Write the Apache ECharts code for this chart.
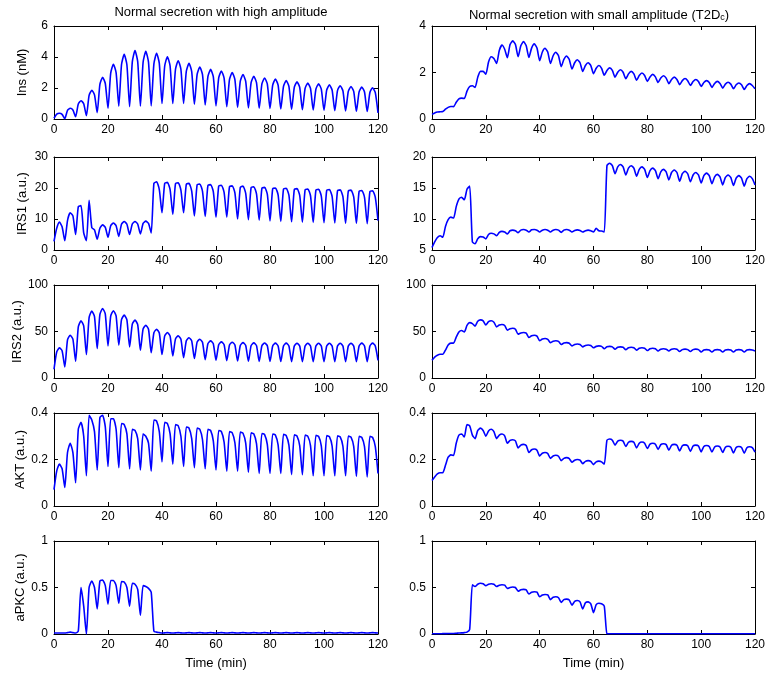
<!DOCTYPE html>
<html>
<head>
<meta charset="utf-8">
<script src="https://cdn.jsdelivr.net/npm/echarts@6/dist/echarts.min.js"></script>
<style>
  html, body { margin: 0; background: #fff; }
  #chart { width: 768px; height: 679px; }
</style>
</head>
<body>
<div id="chart"></div>
<script>
// sample times, one per minute (0 .. 120)
const minutes = Array.from({ length: 121 }, (_, i) => i)

// left column: normal secretion with high amplitude
const insHigh = [
  0.05, 0.31, 0.37, 0.30, 0.02, 0.56, 0.69, 0.58, 0.15, 0.97, 1.18, 0.99, 0.22, 1.52, 1.85, 1.56, 0.41, 2.23, 2.69, 2.29,
  0.69, 2.96, 3.53, 2.99, 0.84, 3.50, 4.17, 3.50, 0.80, 3.69, 4.41, 3.70, 0.84, 3.66, 4.37, 3.67, 0.85, 3.56, 4.24, 3.59,
  1.00, 3.42, 4.02, 3.42, 1.00, 3.21, 3.76, 3.21, 1.00, 3.07, 3.59, 3.06, 0.95, 2.87, 3.35, 2.86, 0.90, 2.74, 3.20, 2.73,
  0.85, 2.65, 3.10, 2.64, 0.80, 2.55, 2.99, 2.54, 0.75, 2.44, 2.86, 2.43, 0.72, 2.34, 2.75, 2.34, 0.70, 2.26, 2.65, 2.26,
  0.68, 2.19, 2.57, 2.19, 0.65, 2.11, 2.48, 2.11, 0.62, 2.04, 2.40, 2.04, 0.60, 1.98, 2.32, 1.97, 0.58, 1.93, 2.27, 1.93,
  0.56, 1.87, 2.20, 1.87, 0.54, 1.83, 2.15, 1.82, 0.52, 1.78, 2.10, 1.78, 0.50, 1.75, 2.06, 1.74, 0.48, 1.71, 2.02, 1.70,
  0.40
]
const irs1High = [
  2.8, 7.0, 9.0, 7.5, 3.0, 9.5, 12.0, 11.0, 5.0, 14.0, 14.3, 5.5, 3.0, 16.0, 7.2, 6.5, 3.5, 7.0, 8.1, 7.3,
  4.1, 7.8, 8.7, 7.8, 4.4, 8.3, 9.2, 8.3, 5.0, 8.4, 9.2, 8.4, 5.2, 8.6, 9.3, 8.6, 5.5, 21.5, 22.0, 19.5,
  12.0, 21.5, 21.8, 19.5, 11.5, 21.4, 21.7, 19.3, 12.0, 21.2, 21.5, 19.0, 11.0, 21.0, 21.3, 18.9, 10.8, 20.8, 21.1, 18.8,
  10.6, 20.6, 20.9, 18.6, 10.6, 20.4, 20.7, 18.4, 10.0, 20.2, 20.6, 18.3, 9.8, 20.1, 20.4, 18.1, 9.6, 19.9, 20.2, 18.0,
  9.4, 19.8, 20.0, 17.8, 9.2, 19.6, 19.9, 17.7, 9.1, 19.5, 19.8, 17.6, 9.0, 19.4, 19.7, 17.5, 8.9, 19.3, 19.6, 17.4,
  8.8, 19.2, 19.5, 17.3, 8.7, 19.1, 19.4, 17.2, 8.6, 19.0, 19.3, 17.1, 8.6, 18.9, 19.2, 17.0, 8.5, 18.8, 19.1, 17.0,
  9.5
]
const irs2High = [
  9.4, 28, 32.4, 29.3, 11.9, 40.9, 46, 41.8, 18, 55, 61.5, 56.1, 25.2, 65, 72, 66, 31.7, 68.3, 74.8, 68.8,
  34.5, 66.6, 72.3, 66.8, 35.3, 62.8, 67.6, 62.5, 33.5, 57.9, 62.2, 57.4, 29.9, 52.8, 56.8, 52.4, 27.3, 48.7, 52.5, 48.4,
  25.2, 45.3, 48.9, 45.1, 23.7, 42.1, 45.3, 41.8, 21.9, 40.0, 43.2, 39.9, 20.9, 38.6, 41.7, 38.4, 19.8, 36.9, 39.9, 36.8,
  19.1, 35.8, 38.8, 35.8, 18.7, 35.5, 38.5, 35.5, 18.3, 35.0, 38.0, 35.0, 18.0, 34.8, 37.8, 34.8, 17.9, 34.6, 37.6, 34.6,
  17.8, 34.5, 37.5, 34.5, 17.7, 34.5, 37.5, 34.5, 17.6, 34.4, 37.4, 34.4, 17.5, 34.4, 37.4, 34.4, 17.5, 34.4, 37.4, 34.4,
  17.5, 34.4, 37.4, 34.4, 17.5, 34.4, 37.4, 34.4, 17.5, 34.4, 37.4, 34.4, 17.5, 34.5, 37.5, 34.5, 17.5, 34.5, 37.5, 34.5,
  19
]
const aktHigh = [
  0.07, 0.15, 0.18, 0.16, 0.08, 0.23, 0.27, 0.23, 0.10, 0.33, 0.36, 0.30, 0.13, 0.39, 0.37, 0.32, 0.155, 0.38, 0.39, 0.34,
  0.17, 0.375, 0.375, 0.33, 0.165, 0.355, 0.35, 0.31, 0.16, 0.33, 0.325, 0.29, 0.155, 0.31, 0.30, 0.27, 0.15, 0.37, 0.365, 0.32,
  0.19, 0.36, 0.355, 0.31, 0.18, 0.35, 0.345, 0.30, 0.17, 0.34, 0.335, 0.29, 0.165, 0.335, 0.33, 0.285, 0.16, 0.33, 0.325, 0.28,
  0.155, 0.325, 0.32, 0.275, 0.15, 0.32, 0.315, 0.272, 0.15, 0.318, 0.313, 0.27, 0.145, 0.315, 0.31, 0.268, 0.14, 0.312, 0.307, 0.265,
  0.14, 0.31, 0.305, 0.263, 0.14, 0.308, 0.303, 0.262, 0.135, 0.306, 0.301, 0.26, 0.135, 0.305, 0.30, 0.26, 0.13, 0.304, 0.299, 0.259,
  0.13, 0.303, 0.298, 0.258, 0.13, 0.302, 0.297, 0.257, 0.13, 0.301, 0.296, 0.256, 0.128, 0.30, 0.295, 0.255, 0.125, 0.30, 0.295, 0.255,
  0.14
]
const apkcHigh = [
  0.01, 0.01, 0.01, 0.01, 0.01, 0.015, 0.02, 0.015, 0.01, 0.03, 0.50, 0.30, 0, 0.50, 0.57, 0.50, 0.27, 0.57, 0.58, 0.52,
  0.32, 0.575, 0.575, 0.52, 0.33, 0.565, 0.56, 0.50, 0.30, 0.545, 0.535, 0.48, 0.20, 0.52, 0.51, 0.49, 0.45, 0.03, 0.02, 0.015,
  0.01, 0.012, 0.015, 0.012, 0.01, 0.012, 0.015, 0.012, 0.01, 0.012, 0.015, 0.012, 0.01, 0.012, 0.015, 0.012, 0.01, 0.012, 0.015, 0.012,
  0.01, 0.012, 0.015, 0.012, 0.01, 0.012, 0.015, 0.012, 0.01, 0.012, 0.015, 0.012, 0.01, 0.012, 0.015, 0.012, 0.01, 0.012, 0.015, 0.012,
  0.01, 0.012, 0.015, 0.012, 0.01, 0.012, 0.015, 0.012, 0.01, 0.012, 0.015, 0.012, 0.01, 0.012, 0.015, 0.012, 0.01, 0.012, 0.015, 0.012,
  0.01, 0.012, 0.015, 0.012, 0.01, 0.012, 0.015, 0.012, 0.01, 0.012, 0.015, 0.012, 0.01, 0.012, 0.015, 0.012, 0.01, 0.012, 0.015, 0.012,
  0.01
]

// right column: normal secretion with small amplitude (T2Dc)
const insSmall = [
  0.2, 0.26, 0.3, 0.31, 0.32, 0.42, 0.5, 0.54, 0.53, 0.72, 0.87, 0.9, 0.88, 1.2, 1.4, 1.43, 1.36, 1.8, 2.05, 2.05,
  1.93, 2.45, 2.68, 2.6, 2.39, 2.95, 3.18, 3.0, 2.64, 3.2, 3.36, 3.2, 2.68, 3.15, 3.33, 3.15, 2.65, 3.05, 3.23, 3.05,
  2.51, 2.88, 3.04, 2.88, 2.39, 2.72, 2.87, 2.72, 2.25, 2.56, 2.71, 2.56, 2.15, 2.42, 2.55, 2.42, 2.05, 2.3, 2.42, 2.3,
  1.95, 2.18, 2.3, 2.18, 1.88, 2.09, 2.2, 2.09, 1.8, 2.01, 2.12, 2.01, 1.73, 1.94, 2.05, 1.94, 1.67, 1.87, 1.98, 1.87,
  1.62, 1.81, 1.92, 1.81, 1.57, 1.76, 1.86, 1.76, 1.52, 1.7, 1.8, 1.7, 1.48, 1.65, 1.74, 1.65, 1.44, 1.61, 1.7, 1.61,
  1.4, 1.57, 1.65, 1.57, 1.36, 1.53, 1.62, 1.53, 1.33, 1.5, 1.58, 1.5, 1.3, 1.47, 1.55, 1.47, 1.27, 1.44, 1.52, 1.44,
  1.3
]
const irs1Small = [
  5.4, 6.3, 7.0, 7.3, 7.05, 8.8, 9.9, 10.3, 10.15, 12.0, 13.2, 13.5, 13.1, 14.8, 15.3, 6.3, 6.0, 6.8, 7.15, 7.1,
  6.8, 7.5, 7.7, 7.6, 7.3, 7.85, 8.0, 7.9, 7.6, 8.1, 8.2, 8.1, 7.8, 8.2, 8.3, 8.2, 7.9, 8.25, 8.3, 8.2,
  7.9, 8.2, 8.3, 8.2, 7.9, 8.2, 8.3, 8.2, 7.85, 8.2, 8.3, 8.2, 7.9, 8.15, 8.25, 8.15, 7.9, 8.1, 8.2, 8.1,
  7.9, 8.5, 8.1, 8.05, 7.9, 18.6, 19.0, 18.6, 17.3, 18.4, 18.8, 18.4, 17.1, 18.2, 18.6, 18.2, 16.9, 18.0, 18.4, 18.0,
  16.7, 17.8, 18.2, 17.8, 16.5, 17.6, 18.0, 17.6, 16.3, 17.5, 17.9, 17.5, 16.1, 17.3, 17.7, 17.3, 16.0, 17.1, 17.5, 17.1,
  15.8, 17.0, 17.4, 17.0, 15.7, 16.8, 17.2, 16.8, 15.5, 16.7, 17.1, 16.7, 15.4, 16.6, 17.0, 16.6, 15.3, 16.5, 16.9, 16.5,
  15.5
]
const irs2Small = [
  19, 22.5, 24.5, 25.5, 25.5, 30, 35.5, 37.5, 37.5, 44, 49.5, 51, 49.5, 56.5, 59.5, 58.5, 55.8, 61, 62.5, 61.5,
  57, 60.5, 61.5, 60, 55, 57, 57.5, 56.5, 51.5, 53, 53.5, 52.5, 47, 48.5, 49, 48.2, 43.5, 45.5, 46, 45,
  40, 42, 42.5, 41.5, 38, 39.5, 40, 39.3, 36, 37.6, 38, 37.4, 34.5, 36, 36.5, 36, 33.5, 35, 35.5, 35,
  32.5, 34, 34.5, 34, 31.5, 33.5, 34, 33.5, 31, 33, 33.5, 33, 30.5, 32.5, 33, 32.5, 30, 32, 32.5, 32,
  29.5, 31.5, 32, 31.5, 29, 31, 31.5, 31, 29, 31, 31.5, 31, 28.5, 30.5, 31, 30.5, 28.5, 30.5, 31, 30.5,
  28, 30, 30.5, 30, 28, 30, 30.5, 30, 28, 30, 30.5, 30, 28, 30, 30.5, 30, 28, 30, 30.5, 30,
  29
]
const aktSmall = [
  0.11, 0.125, 0.138, 0.143, 0.143, 0.175, 0.21, 0.22, 0.217, 0.27, 0.305, 0.31, 0.297, 0.35, 0.345, 0.305, 0.29, 0.325, 0.335, 0.325,
  0.30, 0.323, 0.33, 0.32, 0.29, 0.305, 0.31, 0.302, 0.27, 0.282, 0.285, 0.28, 0.25, 0.262, 0.265, 0.26, 0.23, 0.242, 0.245, 0.24,
  0.215, 0.227, 0.23, 0.226, 0.205, 0.215, 0.218, 0.214, 0.195, 0.205, 0.208, 0.204, 0.188, 0.197, 0.2, 0.197, 0.182, 0.192, 0.195, 0.192,
  0.178, 0.19, 0.193, 0.19, 0.18, 0.283, 0.288, 0.283, 0.262, 0.279, 0.283, 0.279, 0.256, 0.274, 0.278, 0.274, 0.25, 0.27, 0.275, 0.27,
  0.247, 0.266, 0.27, 0.266, 0.243, 0.264, 0.268, 0.264, 0.24, 0.261, 0.265, 0.261, 0.237, 0.259, 0.263, 0.259, 0.235, 0.258, 0.262, 0.258,
  0.233, 0.256, 0.26, 0.256, 0.232, 0.254, 0.258, 0.254, 0.23, 0.253, 0.257, 0.253, 0.228, 0.252, 0.256, 0.252, 0.227, 0.251, 0.255, 0.251,
  0.232
]
const apkcSmall = [
  0.002, 0.002, 0.003, 0.003, 0.004, 0.004, 0.005, 0.005, 0.006, 0.008, 0.01, 0.012, 0.015, 0.02, 0.05, 0.53, 0.51, 0.535, 0.545, 0.54,
  0.52, 0.535, 0.54, 0.535, 0.51, 0.525, 0.53, 0.525, 0.49, 0.5, 0.505, 0.5, 0.46, 0.475, 0.48, 0.475, 0.43, 0.45, 0.455, 0.45,
  0.40, 0.42, 0.425, 0.42, 0.37, 0.395, 0.4, 0.39, 0.34, 0.37, 0.375, 0.365, 0.31, 0.35, 0.36, 0.345, 0.27, 0.335, 0.345, 0.325,
  0.23, 0.315, 0.33, 0.325, 0.30, 0.003, 0.002, 0.002, 0.002, 0.002, 0.002, 0.002, 0.002, 0.002, 0.002, 0.002, 0.002, 0.002, 0.002, 0.002,
  0.002, 0.002, 0.002, 0.002, 0.002, 0.002, 0.002, 0.002, 0.002, 0.002, 0.002, 0.002, 0.002, 0.002, 0.002, 0.002, 0.002, 0.002, 0.002, 0.002,
  0.002, 0.002, 0.002, 0.002, 0.002, 0.002, 0.002, 0.002, 0.002, 0.002, 0.002, 0.002, 0.002, 0.002, 0.002, 0.002, 0.002, 0.002, 0.002, 0.002,
  0.002
]

// x ticks and per-row y ranges [min, max, interval]
const xTicks = { min: 0, max: 120, interval: 20 }
const rows = [
  { name: 'Ins (nM)', high: insHigh, small: insSmall, rangeHigh: [0, 6, 2], rangeSmall: [0, 4, 2] },
  { name: 'IRS1 (a.u.)', high: irs1High, small: irs1Small, rangeHigh: [0, 30, 10], rangeSmall: [5, 20, 5] },
  { name: 'IRS2 (a.u.)', high: irs2High, small: irs2Small, rangeHigh: [0, 100, 50], rangeSmall: [0, 100, 50] },
  { name: 'AKT (a.u.)', high: aktHigh, small: aktSmall, rangeHigh: [0, 0.4, 0.2], rangeSmall: [0, 0.4, 0.2] },
  { name: 'aPKC (a.u.)', high: apkcHigh, small: apkcSmall, rangeHigh: [0, 1, 0.5], rangeSmall: [0, 1, 0.5] }
]

const rowTops = [26, 157, 285, 413, 541]
const colLefts = [54, 432]
const plotW = 324
const plotH = 93
const font = 'Liberation Sans, Arial, Helvetica, sans-serif'

const grid = []
const xAxis = []
const yAxis = []
const series = []

rows.forEach((row, r) => {
  [0, 1].forEach(c => {
    const g = grid.length
    const range = c === 0 ? row.rangeHigh : row.rangeSmall
    const values = c === 0 ? row.high : row.small
    grid.push({ left: colLefts[c], top: rowTops[r], width: plotW, height: plotH })

    // MATLAB style box: ticks point inwards on all four sides
    const tick = { show: true, inside: true, length: 4, lineStyle: { color: '#000', width: 1 } }
    const line = { show: true, onZero: false, lineStyle: { color: '#000', width: 1 } }

    // bottom x axis (with labels) and top x axis (ticks only)
    const bottom = {
      gridIndex: g, type: 'value', position: 'bottom',
      min: xTicks.min, max: xTicks.max, interval: xTicks.interval,
      axisLine: line, axisTick: tick, splitLine: { show: false },
      axisLabel: { color: '#000', fontSize: 12, margin: 5, fontFamily: font }
    }
    if (r === rows.length - 1) {
      bottom.name = 'Time (min)'
      bottom.nameLocation = 'middle'
      bottom.nameGap = 23
      bottom.nameTextStyle = { color: '#000', fontSize: 13, fontFamily: font }
    }
    xAxis.push(bottom)
    xAxis.push({
      gridIndex: g, type: 'value', position: 'top',
      min: xTicks.min, max: xTicks.max, interval: xTicks.interval,
      axisLine: line, axisTick: tick, splitLine: { show: false },
      axisLabel: { show: false }
    })

    // left y axis (with labels) and right y axis (ticks only)
    const left = {
      gridIndex: g, type: 'value', position: 'left',
      min: range[0], max: range[1], interval: range[2],
      axisLine: line, axisTick: tick, splitLine: { show: false },
      axisLabel: { color: '#000', fontSize: 12, margin: 6, fontFamily: font }
    }
    if (c === 0) {
      left.name = row.name
      left.nameLocation = 'middle'
      left.nameGap = 25
      left.nameTextStyle = { color: '#000', fontSize: 13, fontFamily: font }
    }
    yAxis.push(left)
    yAxis.push({
      gridIndex: g, type: 'value', position: 'right',
      min: range[0], max: range[1], interval: range[2],
      axisLine: line, axisTick: tick, splitLine: { show: false },
      axisLabel: { show: false }
    })

    series.push({
      type: 'line',
      xAxisIndex: 2 * g,
      yAxisIndex: 2 * g,
      data: minutes.map((t, i) => [t, values[i]]),
      showSymbol: false,
      smooth: 0.2,
      lineStyle: { color: '#0000ff', width: 1.6 },
      silent: true
    })
  })
})

const chart = echarts.init(document.getElementById('chart'))
chart.setOption({
  animation: false,
  backgroundColor: '#fff',
  textStyle: { fontFamily: font },
  title: [{
    text: 'Normal secretion with high amplitude',
    left: colLefts[0] + plotW / 2,
    top: 1,
    textAlign: 'center',
    textStyle: { color: '#000', fontSize: 13, fontWeight: 'normal', fontFamily: font }
  }, {
    text: '{a|Normal secretion with small amplitude (T2D}{b|c}{a|)}',
    left: colLefts[1] + plotW / 2,
    top: 1,
    textAlign: 'center',
    textStyle: {
      fontWeight: 'normal',
      rich: {
        a: { color: '#000', fontSize: 13, fontWeight: 'normal', fontFamily: font, lineHeight: 16, verticalAlign: 'bottom' },
        b: { color: '#000', fontSize: 9, fontWeight: 'normal', fontFamily: font, lineHeight: 12, verticalAlign: 'bottom' }
      }
    }
  }],
  grid: grid,
  xAxis: xAxis,
  yAxis: yAxis,
  series: series
})
</script>
</body>
</html>
